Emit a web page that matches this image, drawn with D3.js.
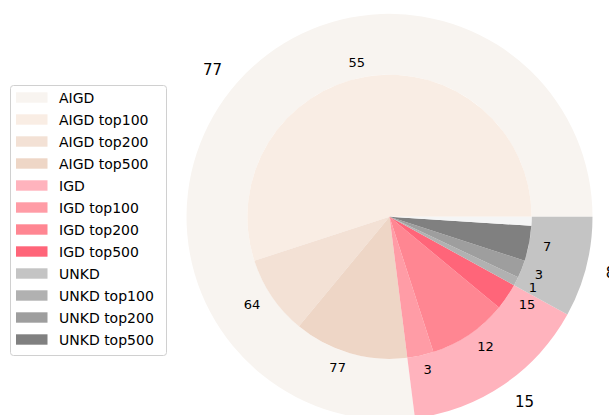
<!DOCTYPE html>
<html>
<head>
<meta charset="utf-8">
<script src="https://cdn.jsdelivr.net/npm/d3@7"></script>
<style>
  body { margin: 0; background: #fff; }
  svg { font-family: "DejaVu Sans", sans-serif; }
</style>
</head>
<body>
<svg id="chart" width="609" height="415"></svg>
<script>
// Outer ring: groups
const outerLabels = ["AIGD", "IGD", "UNKD"];
const outerValues = [77, 15, 8];
const outerColors = ["#f8f4f0", "#ffb3bd", "#c4c4c4"];

// Inner pie: cumulative counts per group (top100 / top200 / top500)
const innerLabels = [
  "AIGD top100", "AIGD top200", "AIGD top500",
  "IGD top100", "IGD top200", "IGD top500",
  "UNKD top100", "UNKD top200", "UNKD top500"
];
const innerGroups = ["AIGD", "AIGD", "AIGD", "IGD", "IGD", "IGD", "UNKD", "UNKD", "UNKD"];
const innerValues = [55, 64, 77, 3, 12, 15, 1, 3, 7];
const innerColors = [
  "#f9ede4", "#f3e1d5", "#eed6c6",
  "#ff9ca6", "#ff8692", "#ff6579",
  "#b1b1b1", "#9e9e9e", "#808080"
];
const restColor = "#f5f5f5";

const svg = d3.select("#chart");
const cx = 389.5, cy = 216.8;
const r = d3.scaleLinear().domain([0, 1]).range([0, 203]);
const ringWidth = 0.3;

const g = svg.append("g").attr("transform", `translate(${cx},${cy})`);

// matplotlib-like: start at east, counterclockwise
const pie = d3.pie().sort(null).value((d) => d.value)
  .startAngle(Math.PI / 2).endAngle(Math.PI / 2 - 2 * Math.PI);

// Build inner slices: differences within each group, remainder left as a blank slice
const innerData = [];
outerLabels.forEach((grp, gi) => {
  let prev = 0;
  innerLabels.forEach((lab, i) => {
    if (innerGroups[i] !== grp) return;
    innerData.push({ label: String(innerValues[i]), value: innerValues[i] - prev, color: innerColors[i] });
    prev = innerValues[i];
  });
  if (outerValues[gi] - prev > 0) {
    innerData.push({ label: null, value: outerValues[gi] - prev, color: restColor });
  }
});

const outerData = outerLabels.map((l, i) => ({ label: String(outerValues[i]), value: outerValues[i], color: outerColors[i] }));

const outerArc = d3.arc().innerRadius(r(1 - ringWidth)).outerRadius(r(1));
const innerArc = d3.arc().innerRadius(0).outerRadius(r(1 - ringWidth));

g.append("g").selectAll("path")
  .data(pie(outerData))
  .join("path")
  .attr("d", outerArc)
  .attr("fill", (d) => d.data.color);

g.append("g").selectAll("path")
  .data(pie(innerData))
  .join("path")
  .attr("d", innerArc)
  .attr("fill", (d) => d.data.color);

function addLabels(arcs, radius, size) {
  g.append("g").selectAll("text")
    .data(arcs.filter((d) => d.data.label))
    .join("text")
    .each(function (d) {
      const mid = (d.startAngle + d.endAngle) / 2;
      const x = radius * 1.1 * Math.sin(mid);
      const y = -radius * 1.1 * Math.cos(mid);
      d3.select(this)
        .attr("x", x)
        .attr("y", y)
        .attr("dy", "0.36em")
        .attr("text-anchor", x > 0 ? "start" : "end");
    })
    .attr("font-size", size)
    .attr("fill", "#000")
    .text((d) => d.data.label);
}
addLabels(pie(outerData), r(1), 15);
addLabels(pie(innerData), r(1 - ringWidth), 13);

// Legend
const legendItems = [];
outerLabels.forEach((grp, gi) => {
  legendItems.push({ label: grp, color: outerColors[gi] });
  innerLabels.forEach((lab, i) => {
    if (innerGroups[i] === grp) legendItems.push({ label: lab, color: innerColors[i] });
  });
});

const legend = svg.append("g").attr("transform", "translate(10,85)");
legend.append("rect")
  .attr("x", 0.5).attr("y", 0.5)
  .attr("width", 156).attr("height", 270)
  .attr("rx", 3)
  .attr("fill", "#fff")
  .attr("fill-opacity", 0.8)
  .attr("stroke", "#d0d0d0");

const rowY = d3.scaleLinear().domain([0, legendItems.length - 1]).range([12.5, 254.5]);
const row = legend.selectAll("g.row")
  .data(legendItems)
  .join("g")
  .attr("class", "row")
  .attr("transform", (d, i) => `translate(0,${rowY(i)})`);
row.append("rect")
  .attr("x", 6).attr("y", -5.2)
  .attr("width", 31.5).attr("height", 10.4)
  .attr("fill", (d) => d.color);
row.append("text")
  .attr("x", 49)
  .attr("dy", "0.36em")
  .attr("font-size", 14)
  .attr("fill", "#000")
  .text((d) => d.label);
</script>
</body>
</html>
